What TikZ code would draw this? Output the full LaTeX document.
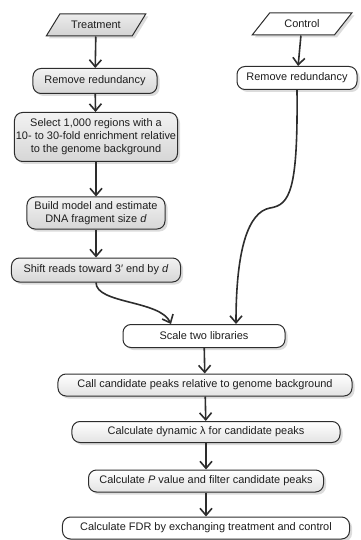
\documentclass[tikz,border=0pt]{standalone}
\usepackage{fontspec}
\setmainfont{Liberation Sans}
\usetikzlibrary{shapes.geometric, arrows.meta, shadows}
\usepackage{xcolor}
\definecolor{flowink}{RGB}{45, 45, 45}
\definecolor{flowtext}{RGB}{30, 30, 30}
\tikzset{
  procbox/.style={
    rectangle, rounded corners=8bp,
    draw=flowink, line width=1bp,
    align=center, inner sep=1bp, text=flowtext,
    font=\fontsize{11}{13}\selectfont,
    drop shadow={shadow xshift=2.5bp, shadow yshift=-2.5bp, fill=gray!55}
  },
  grayproc/.style={procbox, top color=gray!10, bottom color=gray!32},
  fadeproc/.style={procbox, top color=white, bottom color=gray!22},
  whiteproc/.style={procbox, fill=white},
  databox/.style={
    trapezium, trapezium left angle=45, trapezium right angle=135,
    trapezium stretches=true,
    draw=flowink, line width=1bp, inner sep=1bp, text=flowtext,
    minimum width=100bp, minimum height=22bp,
    font=\fontsize{11}{13}\selectfont,
    drop shadow={shadow xshift=2.5bp, shadow yshift=-2.5bp, fill=gray!55}
  },
  graydata/.style={databox, top color=gray!15, bottom color=gray!35},
  whitedata/.style={databox, fill=white},
  flow/.style={-{Straight Barb[length=7bp, width=12bp, line width=1.6bp]}, line width=1.6bp, draw=flowink},
}
\begin{document}
\begin{tikzpicture}[x=1bp, y=-1bp]
  \useasboundingbox (0,0) rectangle (360,540);
  % treatment column
  \node[graydata] (treat) at (96,25) {Treatment};
  \node[grayproc, minimum width=124bp, minimum height=25bp] (rrtreat) at (95,81) {Remove redundancy};
  \node[grayproc, minimum width=163bp, minimum height=49bp] (select) at (96,137)
    {Select 1,000 regions with a\\10- to 30-fold enrichment relative\\to the genome background};
  \node[grayproc, minimum width=138bp, minimum height=32bp] (model) at (96,213)
    {Build model and estimate\\DNA fragment size \textit{d}};
  \node[grayproc, minimum width=169bp, minimum height=24bp] (shift) at (96,270)
    {Shift reads toward 3′ end by \textit{d}};
  % control column
  \node[whitedata] (ctrl) at (302,24) {Control};
  \node[whiteproc, minimum width=120bp, minimum height=23bp] (rrctrl) at (297,78) {Remove redundancy};
  % common steps
  \node[whiteproc, minimum width=162bp, minimum height=23bp] (scale) at (204,336) {Scale two libraries};
  \node[fadeproc, minimum width=294bp, minimum height=22bp] (call) at (205,385)
    {Call candidate peaks relative to genome background};
  \node[fadeproc, minimum width=268bp, minimum height=21bp] (lambda) at (206,432)
    {Calculate dynamic λ for candidate peaks};
  \node[fadeproc, minimum width=235bp, minimum height=22bp] (pval) at (206,481)
    {Calculate \textit{P} value and filter candidate peaks};
  \node[whiteproc, minimum width=287bp, minimum height=22bp] (fdr) at (206,528)
    {Calculate FDR by exchanging treatment and control};
  \coordinate (intreat) at (171,324);
  \coordinate (inctrl) at (236,324);
  \coordinate (bend) at (270,208);
  \draw[flow] (treat)--(rrtreat); \draw[flow] (rrtreat)--(select);
  \draw[flow] (select)--(model); \draw[flow] (model)--(shift);
  \draw[flow] (ctrl)--(rrctrl);
  \draw[flow] (shift.south) .. controls (96,304) and (160,300) .. (intreat);
  \draw[flow] (rrctrl.south) .. controls (298,190) and (290,205) .. (bend)
    .. controls (248,212) and (236,250) .. (inctrl);
  \draw[flow] (scale)--(call); \draw[flow] (call)--(lambda);
  \draw[flow] (lambda)--(pval); \draw[flow] (pval)--(fdr);
\end{tikzpicture}
\end{document}
